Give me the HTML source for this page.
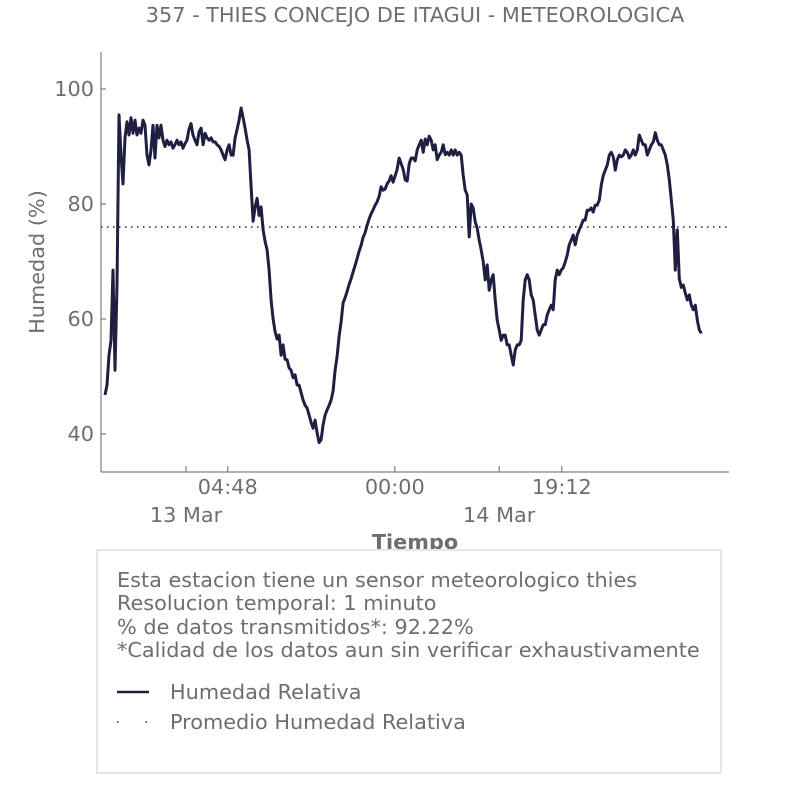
<!DOCTYPE html>
<html><head><meta charset="utf-8">
<style>
body{margin:0;background:#fff;width:806px;height:806px;overflow:hidden;font-family:"Liberation Sans","DejaVu Sans",sans-serif;}
svg text{font-family:"DejaVu Sans","Liberation Sans",sans-serif;fill:#6e6e6e;}
</style></head>
<body>
<svg id="chart" width="806" height="806" viewBox="0 0 806 806" xmlns="http://www.w3.org/2000/svg">
<text x="415" y="22" font-size="20.8" text-anchor="middle">357 - THIES CONCEJO DE ITAGUI - METEOROLOGICA</text>
<g id="plot"></g>
<line x1="101" y1="52" x2="101" y2="472" stroke="#666" stroke-width="1"/>
<line x1="101" y1="472" x2="729" y2="472" stroke="#666" stroke-width="1"/>
<text x="44" y="262" font-size="20.8" text-anchor="middle" transform="rotate(-90 44 262)">Humedad (%)</text>
<text x="415" y="549" font-size="20.8" font-weight="bold" text-anchor="middle">Tiempo</text>
<rect x="97" y="550" width="624" height="223" fill="#fff" stroke="#e6e6e6" stroke-width="2"/>
<text x="117" y="587" font-size="20.8">Esta estacion tiene un sensor meteorologico thies</text>
<text x="117" y="610" font-size="20.8">Resolucion temporal: 1 minuto</text>
<text x="117" y="634" font-size="20.8">% de datos transmitidos*: 92.22%</text>
<text x="117" y="657" font-size="20.8">*Calidad de los datos aun sin verificar exhaustivamente</text>
<line x1="117" y1="692" x2="149" y2="692" stroke="#1f2041" stroke-width="2.5"/>
<text x="170" y="699" font-size="20.8">Humedad Relativa</text>
<line x1="117" y1="722" x2="149" y2="722" stroke="#1f2041" stroke-width="1.5" stroke-dasharray="1.5,27"/>
<text x="170" y="729" font-size="20.8">Promedio Humedad Relativa</text>
</svg>
<script>
// sample every ~13.8 min (0.23 h), hours relative to 13 Mar 00:00
const startHour = -9.31;
const stepHours = 0.23;
const humidity = [46.8,48.5,53.7,56.3,68.5,51.1,65.9,95.5,88.5,83.5,91.5,94.3,92.0,95.0,92.3,94.6,92.0,93.2,92.3,94.6,93.7,88.5,86.8,89.4,93.7,88.0,93.7,91.5,93.7,91.1,90.0,91.1,90.3,90.8,89.7,90.3,91.1,90.3,90.8,89.7,90.5,91.1,93.0,94.0,92.0,91.1,90.3,92.6,93.2,90.3,92.3,91.5,91.1,91.5,90.8,90.8,90.3,90.0,89.4,88.5,87.7,89.4,90.3,88.5,88.5,91.5,93.0,94.6,96.7,95.0,93.2,91.1,89.4,83.0,77.0,79.5,81.0,78.0,79.5,75.5,73.5,72.0,68.5,63.3,60.0,57.8,56.5,57.2,53.7,55.5,53.0,52.9,51.5,51.1,49.8,50.3,48.5,48.5,47.2,45.9,45.0,44.5,43.3,42.0,41.0,42.4,40.2,38.5,39.0,41.6,43.3,44.2,45.0,45.9,47.5,51.1,53.5,57.0,59.5,62.8,63.7,64.8,66.0,67.0,68.2,69.3,70.5,71.8,72.8,74.2,75.0,76.3,77.4,78.3,79.0,79.8,80.4,81.3,83.0,82.4,82.6,83.5,84.0,84.9,83.8,84.9,86.0,88.0,87.0,86.0,84.2,84.0,87.0,88.0,88.0,87.5,89.4,90.3,91.1,89.0,91.3,90.3,91.8,91.1,89.4,90.3,87.7,88.5,89.0,90.3,88.6,89.0,88.5,89.4,88.5,89.4,88.5,89.0,88.5,85.0,82.4,81.6,74.3,80.0,79.3,76.9,75.8,73.7,72.0,70.0,66.8,69.4,65.0,66.8,67.7,63.3,59.8,58.1,56.3,57.2,57.2,55.5,55.5,53.7,52.0,54.6,55.5,55.5,56.3,63.3,66.8,67.7,66.8,64.2,63.3,60.7,58.1,57.2,58.1,59.0,59.0,60.7,61.6,62.4,61.6,66.8,68.5,67.7,68.5,68.9,69.9,71.1,72.9,73.7,74.6,72.9,74.6,75.5,76.3,77.2,77.2,78.9,78.9,79.3,78.6,79.8,79.8,80.7,83.3,85.0,85.9,86.8,88.5,89.0,88.2,85.9,87.7,88.5,88.2,88.5,89.4,89.0,88.0,88.5,89.4,88.5,89.4,92.0,91.1,90.3,90.3,88.5,89.4,90.3,90.8,92.4,91.1,90.3,90.3,89.4,88.5,86.8,84.2,80.7,77.2,68.5,75.5,67.0,65.5,65.9,64.5,63.3,64.2,62.4,61.6,62.4,59.8,58.1,57.5];
const meanHumidity = 76;
const yTicks = [40,60,80,100];
const xTickHours = [4.8,24,43.2];
const xTickLabels = ["04:48","00:00","19:12"];
const dayHours = [0,36];
const dayLabels = ["13 Mar","14 Mar"];

const NS="http://www.w3.org/2000/svg";
function xScale(h){return 186 + h*8.7;}
function yScale(v){return 89 + (100-v)*5.75;}
const svg=document.getElementById('chart');
const plot=document.getElementById('plot');
function mk(tag,attrs,parent){const e=document.createElementNS(NS,tag);for(const k in attrs)e.setAttribute(k,attrs[k]);(parent||svg).appendChild(e);return e;}

yTicks.forEach(v=>{
  const t=mk('line',{x1:101,x2:106,y1:yScale(v),y2:yScale(v),stroke:'#666'});
  
  
  const l=mk('text',{x:94,y:yScale(v)+7,'font-size':20.8,'text-anchor':'end'});
  
  
  l.textContent=v;
});
xTickHours.forEach((h,i)=>{
  const t=mk('line',{x1:xScale(h),x2:xScale(h),y1:466,y2:472,stroke:'#666'});
  
  
  const l=mk('text',{x:xScale(h),y:494,'font-size':20.8,'text-anchor':'middle'});
  
  
  l.textContent=xTickLabels[i];
});
dayHours.forEach((h,i)=>{
  const t=mk('line',{x1:xScale(h),x2:xScale(h),y1:466,y2:472,stroke:'#666'});
  
  
  const l=mk('text',{x:xScale(h),y:522,'font-size':20.8,'text-anchor':'middle'});
  
  
  l.textContent=dayLabels[i];
});
const mean=mk('line',{x1:101,x2:729,y1:yScale(meanHumidity),y2:yScale(meanHumidity),stroke:'#1f2041','stroke-width':1.5,'stroke-dasharray':'1.5,4.5'},plot);


const pts=humidity.map((v,i)=>xScale(startHour+i*stepHours).toFixed(1)+','+yScale(v).toFixed(1)).join(' ');
const line=mk('polyline',{points:pts,fill:'none',stroke:'#1f2041','stroke-width':3,'stroke-linejoin':'round'},plot);


</script>
</body></html>
